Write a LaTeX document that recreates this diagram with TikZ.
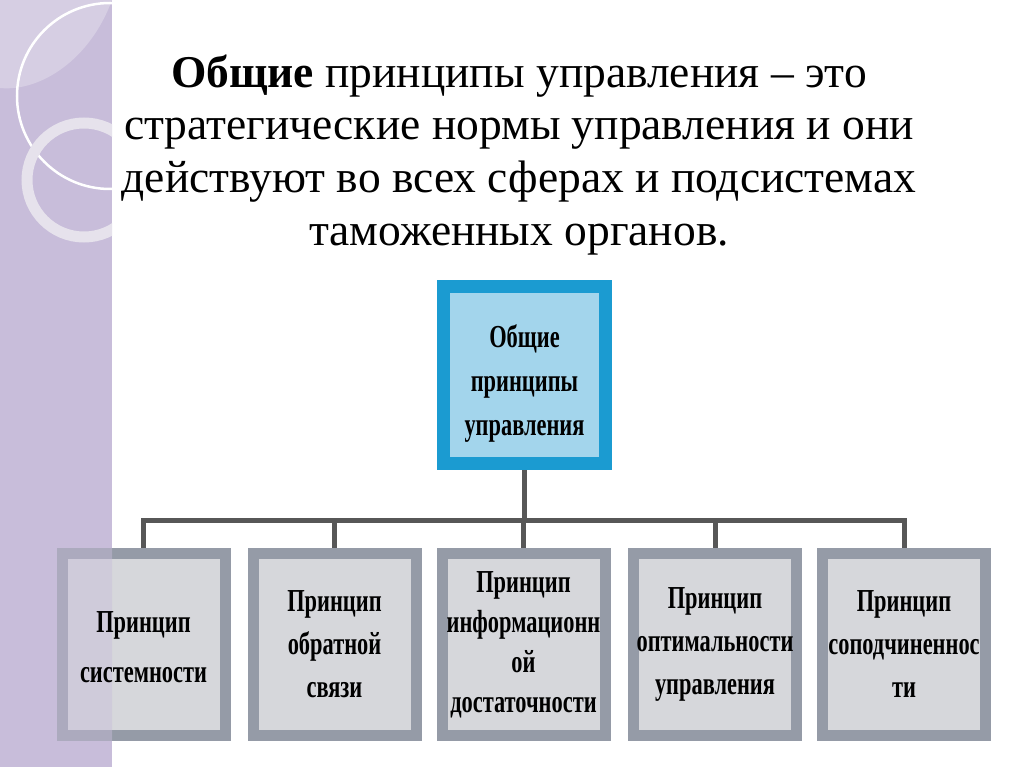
\documentclass[tikz,border=0pt]{standalone}
\usepackage{fontspec}
\setmainfont{Liberation Serif}
\newfontfamily\boxfont[FakeStretch=0.70]{Liberation Serif}
\usepackage{tikz}
\usetikzlibrary{positioning}

\definecolor{lavender}{HTML}{C8BDDA}
\definecolor{lavlight}{HTML}{D6CEE3}
\definecolor{ringcol}{HTML}{E6E2EC}
\definecolor{topblue}{HTML}{1B9BD1}
\definecolor{topfill}{HTML}{A3D5EC}
\definecolor{boxgrey}{HTML}{959BA7}
\definecolor{boxfill}{HTML}{D6D7DB}
\definecolor{linkgrey}{HTML}{575757}

\begin{document}
\begin{tikzpicture}[x=1pt,y=-1pt,
  topbox/.style={draw=topblue,fill=topfill,line width=13pt,minimum width=162pt,minimum height=177pt},
  principle/.style={draw=boxgrey,fill=boxfill,line width=11pt,minimum width=163pt,minimum height=182pt,
    align=center,font=\boxfont\bfseries\fontsize{32}{43}\selectfont},
  boxtext/.style={align=center,font=\boxfont\bfseries\fontsize{32}{44}\selectfont},
  link/.style={draw=linkgrey,line width=5pt}]
\useasboundingbox (0,0) rectangle (1024,767);
\fill[white] (0,0) rectangle (1024,767);

% side band with rings
\fill[lavender] (0,0) rectangle (112,767);
\begin{scope}
\clip (0,0) rectangle (112,767);
\fill[lavlight] (0,0) -- (0,88) .. controls (40,92) and (90,60) .. (112,0) -- cycle;
\draw[white,line width=2.5pt] (110,96) circle (93);
\draw[ringcol,line width=11pt] (84,180) circle (57);
\end{scope}

% title
\node[align=center,font=\fontsize{45.5}{52.5}\selectfont,anchor=base] (title) at (519,245)
  {\textbf{Общие} принципы управления – это\\
   стратегические нормы управления и они\\
   действуют во всех сферах и подсистемах\\
   таможенных органов.};

% top box
\node[topbox] (top) at (524.5,375) {};
\node[boxtext] (toptext) at ([yshift=-8pt]top.center) {Общие\\принципы\\управления};

% principles
\node[principle] (b1) at (143.5,644.5) {};
\foreach \x/\n/\t in {334.5/b2/{Принцип\\обратной\\связи},
                     523.5/b3/{Принцип\\[-3pt]информационн\\[-3pt]ой\\[-3pt]достаточности},
                     715/b4/{Принцип\\оптимальности\\управления},
                     904/b5/{Принцип\\соподчиненнос\\ти}}
  \node[principle] (\n) at (\x,644.5) {\t};

% connectors
\coordinate (bar) at (524.5,520);
\draw[link] (top.south) -- (top.south |- bar);
\draw[link,line cap=rect] (b1.north |- bar) -- (b5.north |- bar);
\foreach \n in {b1,b2,b3,b4,b5}
  \draw[link] (\n.north |- bar) -- (\n.north);

% band shows through the first box
\begin{scope}
\clip (0,0) rectangle (112,767);
\fill[lavender,opacity=0.45] (b1.north west) rectangle (b1.south east);
\end{scope}
\node[boxtext] (b1text) at ([yshift=-3pt]b1.center) {Принцип\\[6pt]системности};
\end{tikzpicture}
\end{document}
